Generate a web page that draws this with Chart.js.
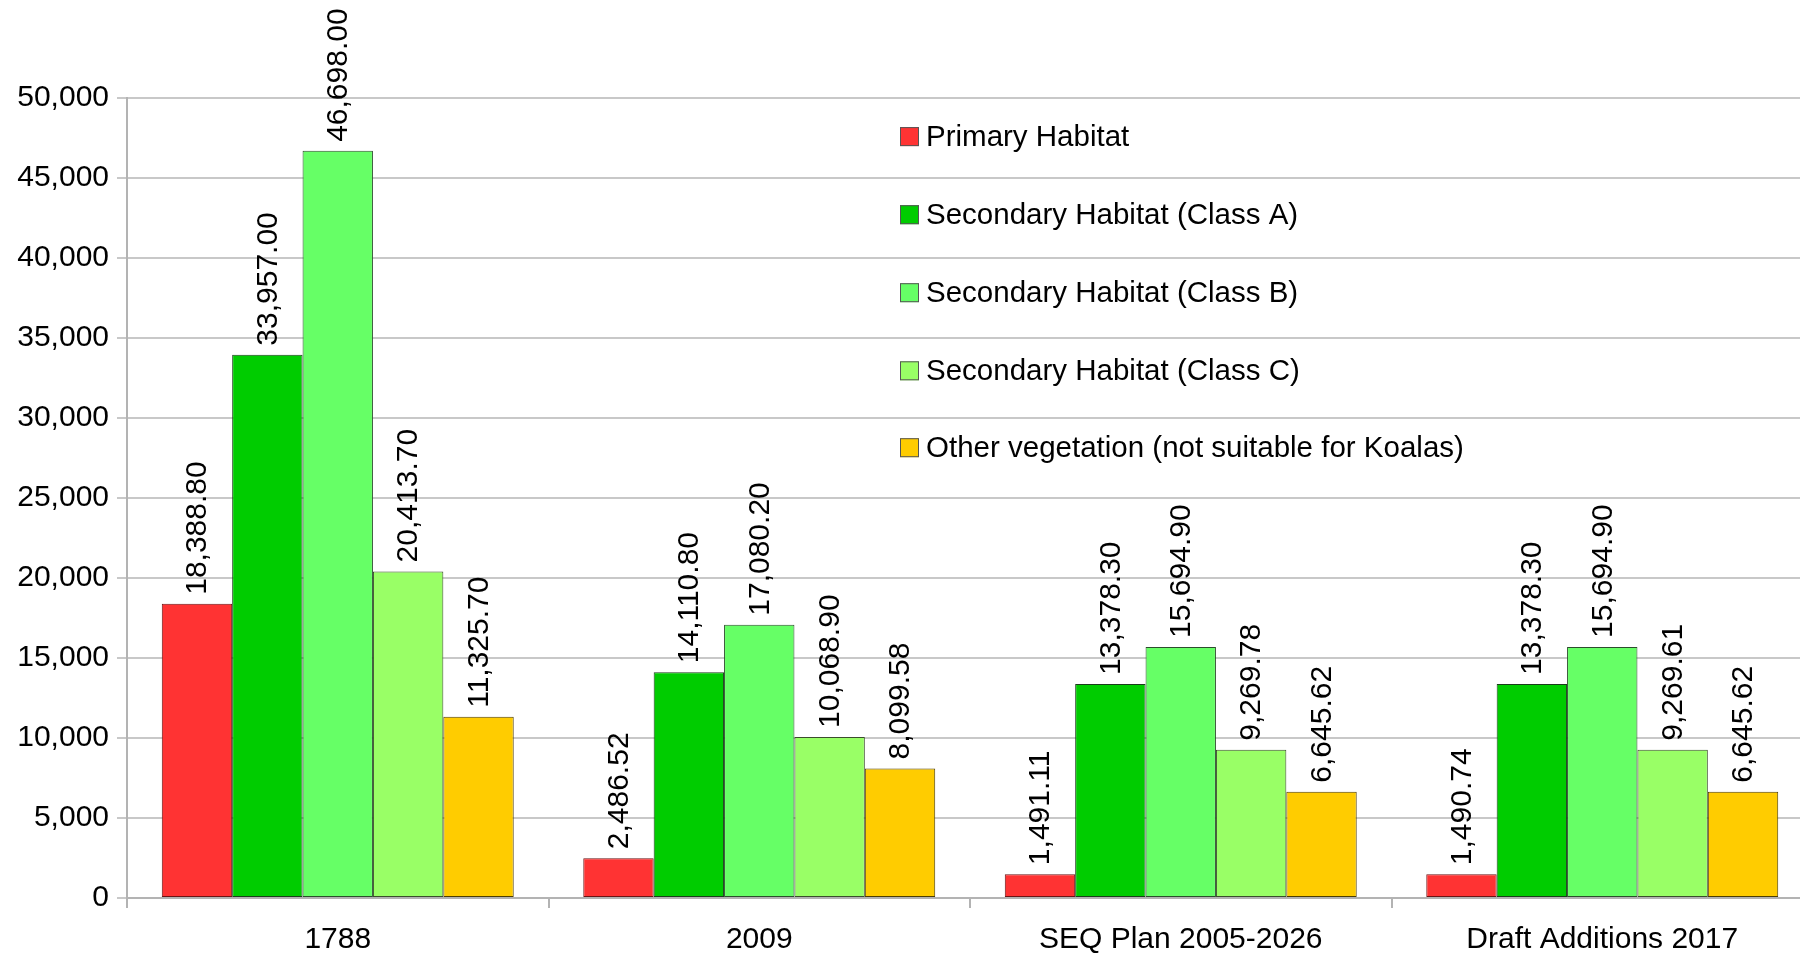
<!DOCTYPE html>
<html>
<head>
<meta charset="utf-8">
<title>Koala habitat</title>
<script src="https://cdn.jsdelivr.net/npm/chart.js@4"></script>
<style>
  html, body { margin: 0; padding: 0; background: #fff; overflow: hidden; }
  #wrap { width: 1813px; height: 956px; }
</style>
</head>
<body>
<div id="wrap"><canvas id="habitatChart" width="1813" height="956"></canvas></div>
<script>
const categories = ['1788', '2009', 'SEQ Plan 2005-2026', 'Draft Additions 2017'];

const primary = [18388.80, 2486.52, 1491.11, 1490.74];
const secondaryA = [33957.00, 14110.80, 13378.30, 13378.30];
const secondaryB = [46698.00, 17080.20, 15694.90, 15694.90];
const secondaryC = [20413.70, 10068.90, 9269.78, 9269.61];
const otherVeg = [11325.70, 8099.58, 6645.62, 6645.62];

const seriesNames = [
    'Primary Habitat',
    'Secondary Habitat (Class A)',
    'Secondary Habitat (Class B)',
    'Secondary Habitat (Class C)',
    'Other vegetation (not suitable for Koalas)'
];
const yTicks = [0, 5000, 10000, 15000, 20000, 25000, 30000, 35000, 40000, 45000, 50000];

const colors = ['#ff3333', '#00cc00', '#66ff66', '#99ff66', '#ffcc00'];
const borders = ['#6b1414', '#1a3d1a', '#2b4d2b', '#3a4d2b', '#4d3d00'];
const FONT = '"Liberation Sans", Arial, sans-serif';

Chart.defaults.font.family = FONT;
Chart.defaults.color = '#000';

// rotated value labels above each bar
const valueLabels = {
    id: 'valueLabels',
    afterDatasetsDraw(chart) {
        const ctx = chart.ctx;
        ctx.save();
        ctx.font = '30px ' + FONT;
        ctx.fillStyle = '#000';
        ctx.textAlign = 'left';
        ctx.textBaseline = 'middle';
        chart.data.datasets.forEach((ds, i) => {
            chart.getDatasetMeta(i).data.forEach((bar, j) => {
                const txt = ds.data[j].toLocaleString('en-US', { minimumFractionDigits: 2, maximumFractionDigits: 2 });
                ctx.save();
                ctx.translate(bar.x + 1, bar.y - 9);
                ctx.rotate(-Math.PI / 2);
                ctx.fillText(txt, 0, 0);
                ctx.restore();
            });
        });
        ctx.restore();
    }
};

// legend drawn inside the plot, one row per series
const insideLegend = {
    id: 'insideLegend',
    afterDraw(chart) {
        const ctx = chart.ctx;
        const rowY = [136.6, 214.7, 292.7, 370.8, 447.7];
        ctx.save();
        ctx.font = '29.5px ' + FONT;
        ctx.textBaseline = 'middle';
        ctx.textAlign = 'left';
        chart.data.datasets.forEach((ds, i) => {
            const y = rowY[i];
            ctx.fillStyle = ds.backgroundColor;
            ctx.fillRect(900, y - 9.5, 19, 19);
            ctx.strokeStyle = '#555';
            ctx.lineWidth = 1;
            ctx.strokeRect(900.5, y - 9, 18, 18);
            ctx.fillStyle = '#000';
            ctx.fillText(ds.label, 926, y + 1);
        });
        ctx.restore();
    }
};

const datasets = [primary, secondaryA, secondaryB, secondaryC, otherVeg].map((vals, i) => ({
    label: seriesNames[i],
    data: vals,
    backgroundColor: colors[i],
    borderColor: borders[i],
    borderWidth: 1,
    borderSkipped: false,
    categoryPercentage: 0.835,
    barPercentage: 1.0
}));

new Chart(document.getElementById('habitatChart'), {
    type: 'bar',
    data: { labels: categories, datasets: datasets },
    options: {
        responsive: false,
        animation: false,
        layout: { padding: { top: 98, right: 0, left: 0, bottom: 0 } },
        plugins: { legend: { display: false }, tooltip: { enabled: false } },
        scales: {
            x: {
                grid: { offset: true, drawOnChartArea: false, tickLength: 10, color: '#b3b3b3', lineWidth: 2 },
                border: { color: '#b3b3b3', width: 2 },
                ticks: { font: { size: 30 }, color: '#000', padding: 14, maxRotation: 0 },
                afterFit(scale) { scale.height = 58; }
            },
            y: {
                min: 0,
                max: 50000,
                afterBuildTicks(scale) { scale.ticks = yTicks.map(v => ({ value: v })); },
                grid: { color: '#c8c8c8', lineWidth: 2, tickLength: 10 },
                border: { color: '#b3b3b3', width: 2 },
                ticks: {
                    font: { size: 30 },
                    color: '#000',
                    padding: 8,
                    callback: v => v.toLocaleString('en-US')
                },
                afterFit(scale) { scale.width = 127; }
            }
        }
    },
    plugins: [valueLabels, insideLegend]
});
</script>
</body>
</html>
